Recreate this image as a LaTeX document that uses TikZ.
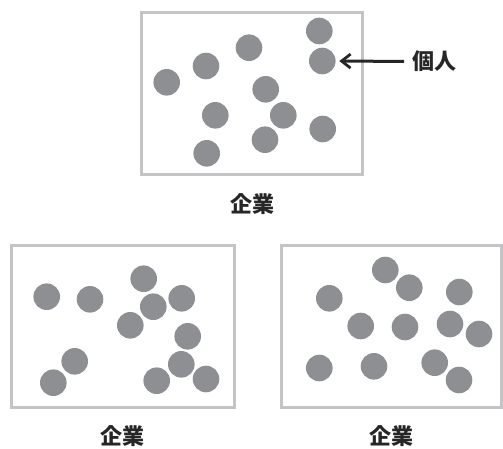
\documentclass[tikz,border=0pt]{standalone}
\usepackage{fontspec}
\newfontfamily\cjk{Noto Sans CJK JP}
\usetikzlibrary{arrows.meta}
\definecolor{dotgray}{RGB}{142,143,147}
\definecolor{boxgray}{RGB}{196,196,199}
\tikzset{
  dot/.style={circle, fill=dotgray, draw=none, minimum size=26.6pt, inner sep=0pt},
  frame/.style={draw=boxgray, line width=3pt},
  lbl/.style={font=\cjk\bfseries\fontsize{22}{25}\selectfont, inner sep=0pt, text=black!85},
  pointer/.style={-{Straight Barb[length=9pt,width=14pt,line width=2.8pt]}, line width=3pt, black!85}
}
\begin{document}
\begin{tikzpicture}[x=1pt,y=-1pt]
\useasboundingbox (0,0) rectangle (503,448);
% frames
\draw[frame] (141,12) rectangle (362,174);
\draw[frame] (11.7,245) rectangle (234.3,407);
\draw[frame] (281,245) rectangle (501.5,407);
% top dots
\node[dot] (t1) at (319.3,31) {};
\node[dot] (t2) at (322.3,61) {};
\node[dot] (t3) at (249,47.7) {};
\node[dot] (t4) at (206,66) {};
\node[dot] (t5) at (166.7,82.3) {};
\node[dot] (t6) at (265.7,89.3) {};
\node[dot] (t7) at (215.3,115.3) {};
\node[dot] (t8) at (283.3,115.3) {};
\node[dot] (t9) at (322.7,129) {};
\node[dot] (t10) at (265,139.7) {};
\node[dot] (t11) at (206.7,153.3) {};
% bottom-left dots
\node[dot] (l1) at (46.7,296.7) {};
\node[dot] (l2) at (90,299.3) {};
\node[dot] (l3) at (143.7,278.7) {};
\node[dot] (l4) at (153.3,306.7) {};
\node[dot] (l5) at (181.7,298.3) {};
\node[dot] (l6) at (130.3,325.3) {};
\node[dot] (l7) at (187.7,336.3) {};
\node[dot] (l8) at (74.7,361.3) {};
\node[dot] (l9) at (53.3,382.7) {};
\node[dot] (l10) at (181.3,364.3) {};
\node[dot] (l11) at (156.7,380.7) {};
\node[dot] (l12) at (206,379) {};
% bottom-right dots
\node[dot] (r1) at (385.3,270) {};
\node[dot] (r2) at (409.3,287.7) {};
\node[dot] (r3) at (329.3,298.3) {};
\node[dot] (r4) at (459.3,292) {};
\node[dot] (r5) at (360.7,326) {};
\node[dot] (r6) at (405,327) {};
\node[dot] (r7) at (450,324) {};
\node[dot] (r8) at (479,334) {};
\node[dot] (r9) at (319.3,368) {};
\node[dot] (r10) at (374,366.3) {};
\node[dot] (r11) at (434.7,362.7) {};
\node[dot] (r12) at (459,380) {};
% labels
\node[lbl, anchor=west] (kojin) at (412,61.5) {個人};
\node[lbl] (k1) at (252,204) {企業};
\node[lbl] (k2) at (122.5,436.5) {企業};
\node[lbl] (k3) at (391.7,436.5) {企業};
% arrow
\draw[pointer, shorten <=8pt, shorten >=3.5pt] (kojin.west) -- (t2.east);
\end{tikzpicture}
\end{document}
